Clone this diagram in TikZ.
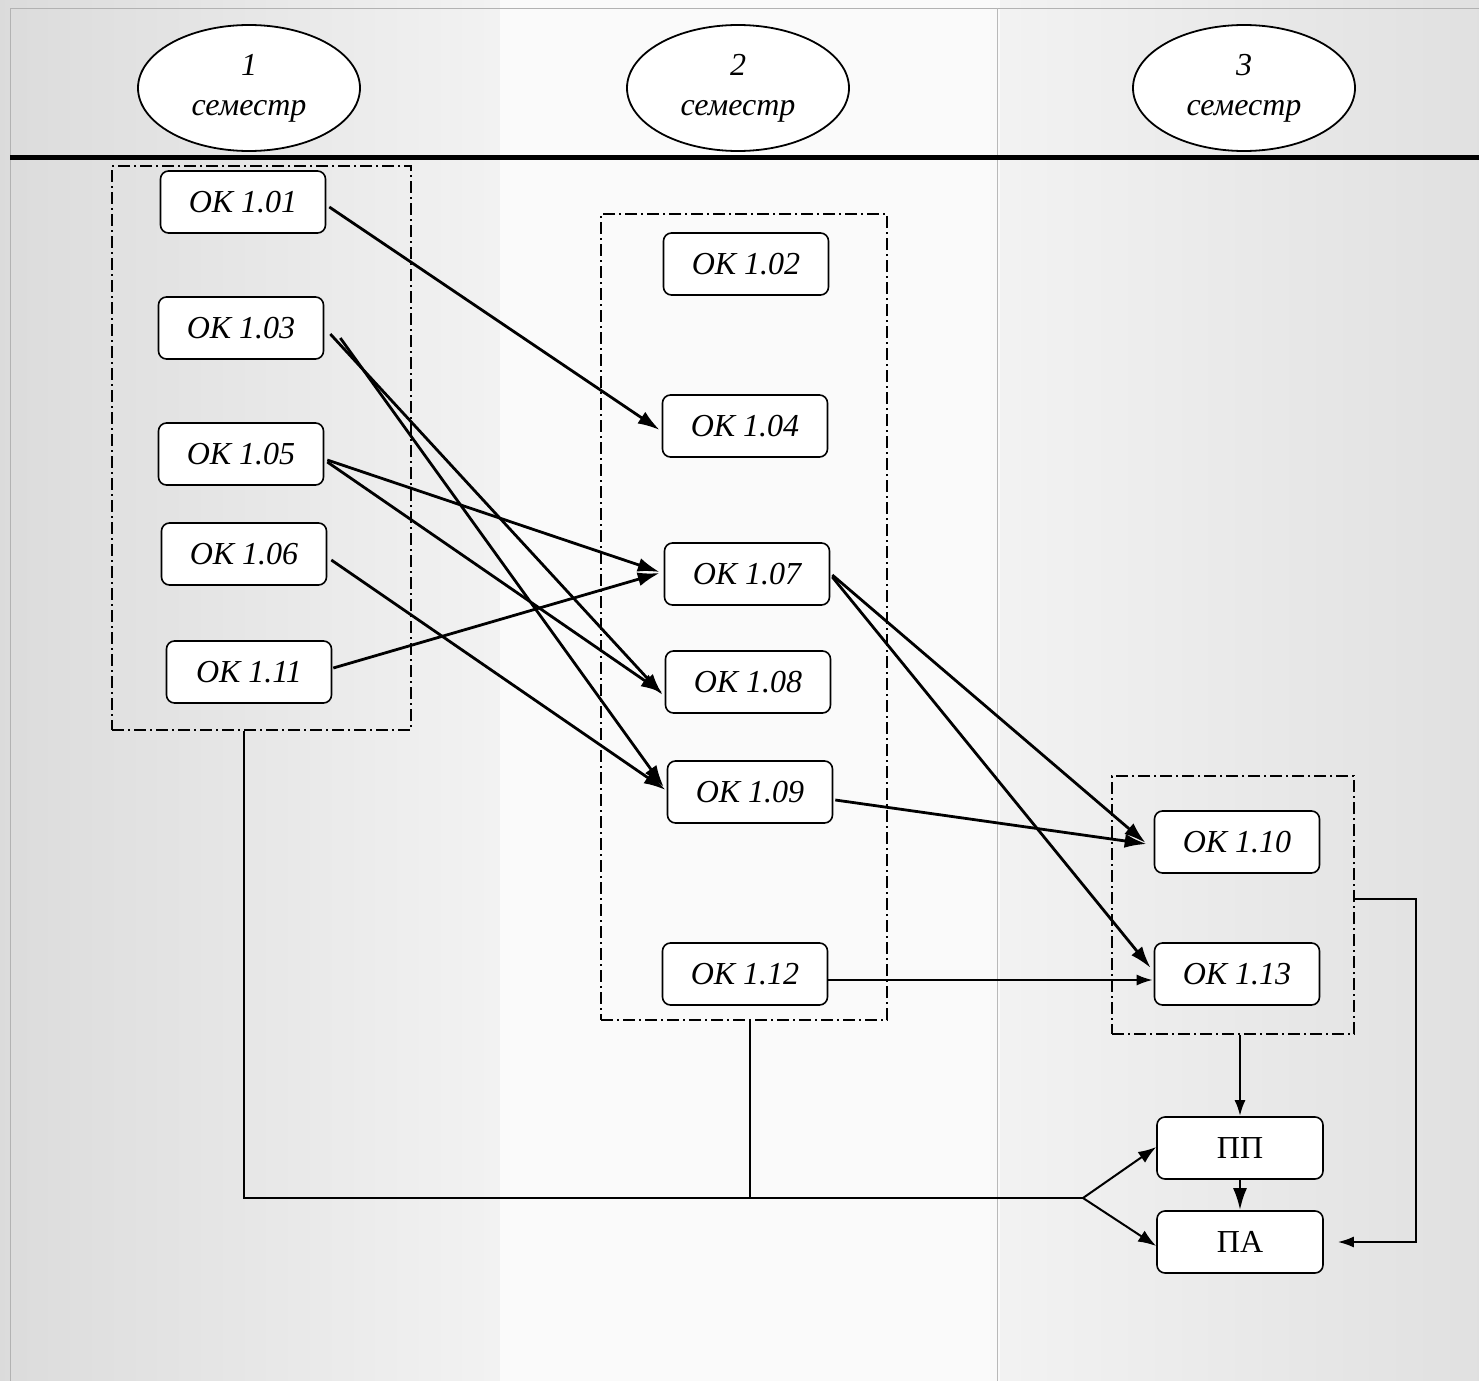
\documentclass[tikz,border=0pt]{standalone}
\usepackage{fontspec}
\setmainfont{Liberation Serif}
\usetikzlibrary{arrows.meta,shapes.geometric,calc}
\begin{document}
\begin{tikzpicture}[x=0.5pt,y=-0.5pt,
  okbox/.style={draw,line width=0.8pt,rounded corners=4pt,fill=white,minimum width=82.5pt,minimum height=31pt,inner sep=0pt,font=\fontsize{16}{18}\selectfont\itshape},
  pbox/.style={draw,line width=0.8pt,rounded corners=4pt,fill=white,minimum width=83pt,minimum height=31pt,inner sep=0pt,font=\fontsize{16}{18}\selectfont},
  sem/.style={draw,ellipse,line width=0.9pt,fill=white,minimum width=111pt,minimum height=63pt,inner sep=0pt,align=center,font=\fontsize{16}{19}\selectfont\itshape},
  grp/.style={draw,line width=0.7pt,dash pattern=on 6pt off 2pt on 1pt off 2pt,inner sep=0pt},
  arr/.style={line width=1.4pt,-{Latex[length=11pt,width=7pt]}},
  thinarr/.style={line width=1pt,-{Latex[length=8pt,width=5.5pt]}},
  ln/.style={line width=1pt}]
\useasboundingbox (0,0) rectangle (1479,1381);
% background
\shade[left color=gray!28,right color=gray!10] (0,0) rectangle (500,1381);
\fill[gray!4] (500,0) rectangle (1000,1381);
\shade[left color=gray!10,right color=gray!24] (1000,0) rectangle (1479,1381);
\draw[gray!60,line width=0.4pt] (10,8) -- (1479,8);
\draw[gray!60,line width=0.4pt] (10,8) -- (10,1381);
\draw[gray!55,line width=0.5pt] (997,8) -- (997,1381);
\draw[line width=2.5pt] (10,157) -- (1479,157);
% semesters
\node[sem] (s1) at (249,88) {1\\[1pt]семестр};
\node[sem] (s2) at (738,88) {2\\[1pt]семестр};
\node[sem] (s3) at (1244,88) {3\\[1pt]семестр};
% groups
\node[grp,minimum width=149.5pt,minimum height=282pt] (g1) at (261.5,448) {};
\node[grp,minimum width=143pt,minimum height=403pt] (g2) at (744,617) {};
\node[grp,minimum width=121pt,minimum height=129pt] (g3) at (1233,905) {};
% nodes
\node[okbox] (n01) at (243,202) {ОК 1.01};
\node[okbox] (n03) at (241,328) {ОК 1.03};
\node[okbox] (n05) at (241,454) {ОК 1.05};
\node[okbox] (n06) at (244,554) {ОК 1.06};
\node[okbox] (n11) at (249,672) {ОК 1.11};
\node[okbox] (n02) at (746,264) {ОК 1.02};
\node[okbox] (n04) at (745,426) {ОК 1.04};
\node[okbox] (n07) at (747,574) {ОК 1.07};
\node[okbox] (n08) at (748,682) {ОК 1.08};
\node[okbox] (n09) at (750,792) {ОК 1.09};
\node[okbox] (n12) at (745,974) {ОК 1.12};
\node[okbox] (n10) at (1237,842) {ОК 1.10};
\node[okbox] (n13) at (1237,974) {ОК 1.13};
\node[pbox] (pp) at (1240,1148) {ПП};
\node[pbox] (pa) at (1240,1242) {ПА};
% arrows
\draw[arr] ($(n01.east)+(3,5)$) -- ($(n04.west)+(-2,4)$);
\draw[arr] ($(n03.east)+(6,6)$) -- ($(n08.west)+(-2,13)$);
\draw[arr] ($(n03.east)+(16,10)$) -- ($(n09.west)+(-3,-5)$);
\draw[arr] ($(n05.east)+(3,6)$) -- ($(n07.west)+(-4,-2)$);
\draw[arr] ($(n05.east)+(3,8)$) -- ($(n08.west)+(-2,11)$);
\draw[arr] ($(n06.east)+(4,6)$) -- ($(n09.west)+(-1,-2)$);
\draw[arr] ($(n11.east)+(1,-4)$) -- ($(n07.west)+(-4,-1)$);
\draw[arr] ($(n07.east)+(2,1)$) -- ($(n10.west)+(-8,1)$);
\draw[arr] ($(n07.east)+(2,3)$) -- ($(n13.west)+(-3,-6)$);
\draw[arr] ($(n09.east)+(2,8)$) -- ($(n10.west)+(-7,2)$);
\draw[thinarr] ($(n12.east)+(0,6)$) -- ($(n13.west)+(-1,6)$);
\draw[line width=1.3pt,-{Latex[length=8pt,width=5.5pt]}] (g3.south -| pp.north) -- (pp.north);
\draw[arr] (pp.south) -- (pa.north);
\coordinate (r1) at (1416,899);
\draw[ln,-{Latex[length=8pt,width=5.5pt]},shorten >=7pt] (g3.east |- r1) -- (r1) |- (pa.east);
\coordinate (j1) at (244,1198);
\coordinate (j2) at (750,1198);
\coordinate (fk) at (1083,1198);
\draw[ln] (g1.south -| j1) -- (j1) -- (fk);
\draw[ln] (g2.south -| j2) -- (j2);
\draw[ln,-{Latex[length=9pt,width=6.5pt]}] (fk) -- ($(pp.west)+(0,-1)$);
\draw[ln,-{Latex[length=9pt,width=6.5pt]}] (fk) -- ($(pa.west)+(0,4)$);
\end{tikzpicture}
\end{document}
